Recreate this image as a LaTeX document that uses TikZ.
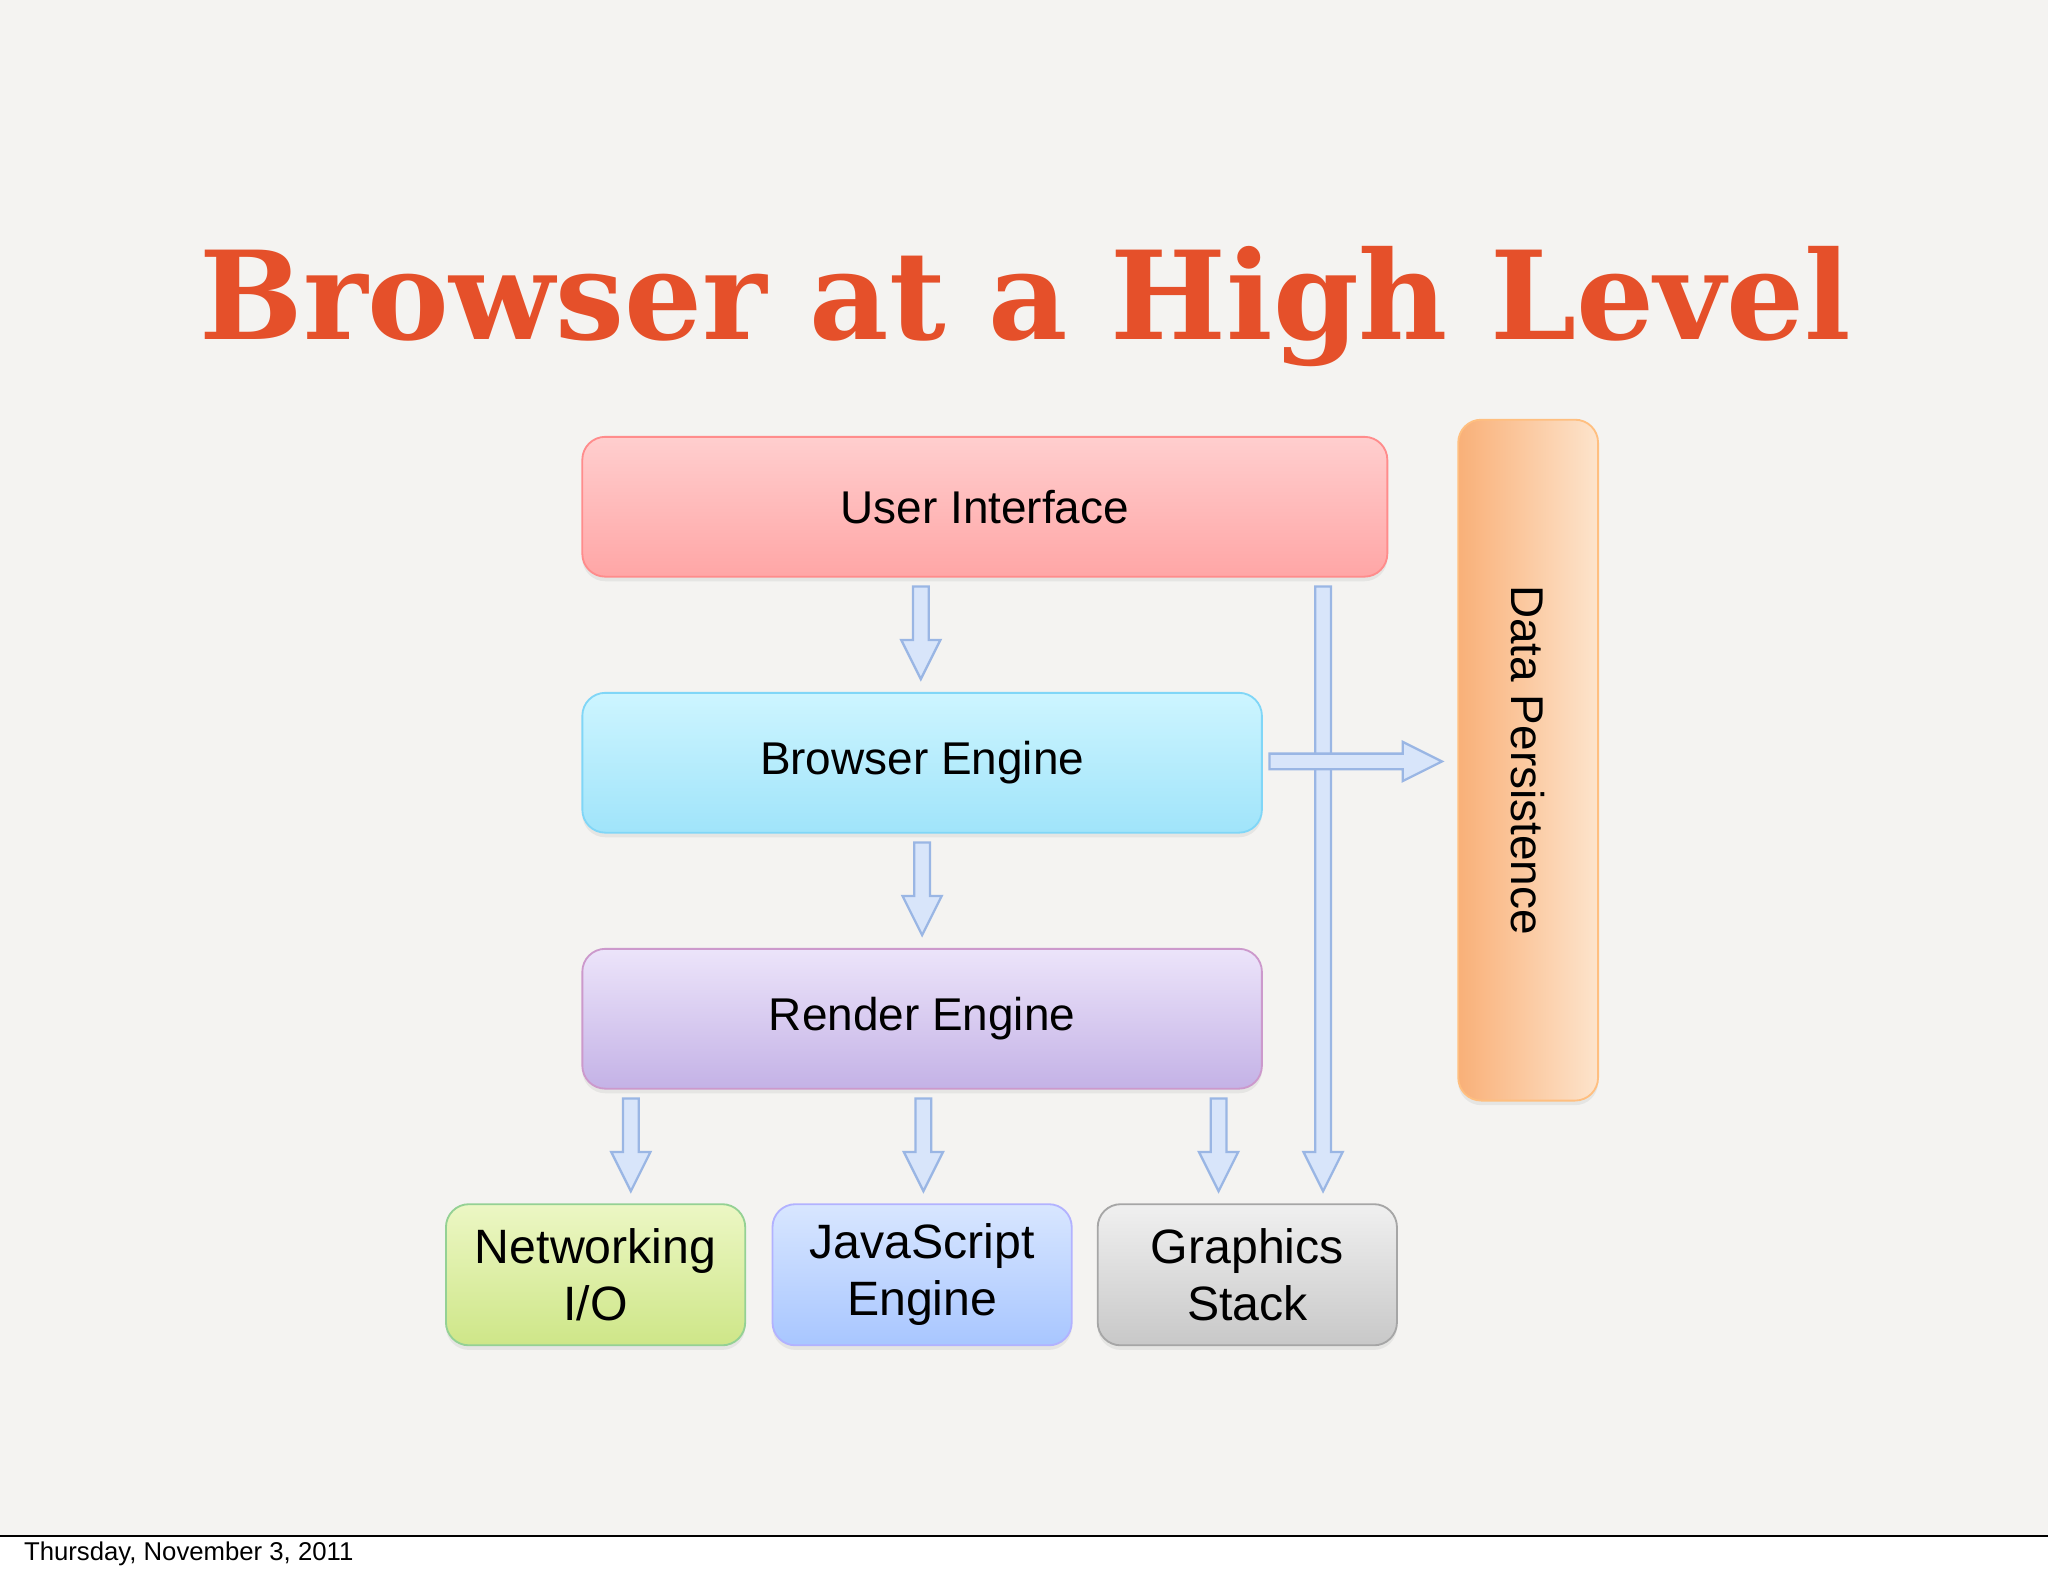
\documentclass[tikz,border=0pt]{standalone}
\usepackage{fontspec}
\setmainfont{Liberation Sans}
\newfontfamily\titlefont{DejaVu Serif}
\usetikzlibrary{shadows,calc}
\definecolor{slidebg}{HTML}{F4F3F1}
\definecolor{titlered}{HTML}{E5502A}
\definecolor{arrowfill}{HTML}{D8E5FA}
\definecolor{arrowline}{HTML}{9AB6E4}
\tikzset{
  box/.style={draw, rounded corners=5pt, align=center, font=\fontsize{10}{12}\selectfont, inner sep=0pt,
    drop shadow={shadow xshift=0pt, shadow yshift=-1pt, opacity=.12}},
  bigbox/.style={box, font=\fontsize{10.5}{12.5}\selectfont},
  blockarrow/.style={draw=arrowline, fill=arrowfill, line width=0.5pt, line join=miter}
}
% hollow block arrow from (#1) to (#2), straight
\newcommand{\blockarrow}[2]{%
  \path let \p1=(#1), \p2=(#2), \n1={atan2(\y2-\y1,\x2-\x1)}, \n2={veclen(\x2-\x1,\y2-\y1)} in
    [blockarrow] ($(#1)+(\n1+90:0.06cm)$) -- ($(#1)+(\n1:\n2-0.3cm)+(\n1+90:0.06cm)$)
    -- ($(#1)+(\n1:\n2-0.3cm)+(\n1+90:0.15cm)$) -- (#2)
    -- ($(#1)+(\n1:\n2-0.3cm)+(\n1-90:0.15cm)$) -- ($(#1)+(\n1:\n2-0.3cm)+(\n1-90:0.06cm)$)
    -- ($(#1)+(\n1-90:0.06cm)$) -- cycle;}
\begin{document}
\begin{tikzpicture}[x=0.01cm,y=-0.01cm]
  \useasboundingbox (0,0) rectangle (1568,1207);
  \fill[white] (0,0) rectangle (1568,1207);
  \fill[slidebg] (0,0) rectangle (1568,1176);
  \draw[black, line width=0.6pt] (0,1176) -- (1568,1176);
  \node[anchor=west, font=\fontsize{5.6}{7}\selectfont] (date) at (6,1190) {Thursday, November 3, 2011};

  \node[text=titlered, font=\titlefont\bfseries\fontsize{26.7}{30}\selectfont] (title) at (785,235) {Browser at a High Level};

  \node[box, draw=red!45, top color={rgb,255:red,255;green,206;blue,206}, bottom color={rgb,255:red,255;green,166;blue,166},
    minimum width=6.16cm, minimum height=1.07cm] (ui) at (754,388) {User Interface};
  \node[box, draw=cyan!50, top color={rgb,255:red,205;green,245;blue,255}, bottom color={rgb,255:red,160;green,228;blue,250},
    minimum width=5.2cm, minimum height=1.07cm] (be) at (706,584) {Browser Engine};
  \node[box, draw=violet!40, top color={rgb,255:red,236;green,228;blue,250}, bottom color={rgb,255:red,196;green,178;blue,230},
    minimum width=5.2cm, minimum height=1.07cm] (re) at (706,780) {Render Engine};
  \node[bigbox, draw=green!40!gray!60, top color={rgb,255:red,236;green,247;blue,196}, bottom color={rgb,255:red,206;green,230;blue,136},
    minimum width=2.29cm, minimum height=1.08cm] (net) at (456,976) {Networking\\I/O};
  \node[bigbox, draw=blue!30, top color={rgb,255:red,216;green,230;blue,255}, bottom color={rgb,255:red,168;green,198;blue,255},
    minimum width=2.29cm, minimum height=1.08cm] (js) at (706,976) {JavaScript\\Engine};
  \node[bigbox, draw=gray!70, top color={rgb,255:red,240;green,240;blue,240}, bottom color={rgb,255:red,200;green,200;blue,200},
    minimum width=2.29cm, minimum height=1.08cm] (gs) at (955,976) {Graphics\\Stack};
  \node[box, draw=orange!50, left color={rgb,255:red,249;green,176;blue,120}, right color={rgb,255:red,253;green,228;blue,204},
    minimum width=1.07cm, minimum height=5.21cm] (dp) at (1170,582) {};
  \node[rotate=-90, font=\fontsize{10}{12}\selectfont] (dplabel) at (dp.center) {Data Persistence};

  % connectors
  \coordinate (a1) at (705,449);  \coordinate (b1) at (705,520);
  \coordinate (a2) at (706,645);  \coordinate (b2) at (706,716);
  \coordinate (a3) at (483,841);  \coordinate (b3) at (483,912);
  \coordinate (a4) at (707,841);  \coordinate (b4) at (707,912);
  \coordinate (a5) at (933,841);  \coordinate (b5) at (933,912);
  \coordinate (a6) at (1013,449); \coordinate (b6) at (1013,912);
  \coordinate (a7) at (972,583);  \coordinate (b7) at (1104,583);
  \foreach \i in {1,...,6} {\blockarrow{a\i}{b\i}}
  \blockarrow{a7}{b7}
\end{tikzpicture}
\end{document}
